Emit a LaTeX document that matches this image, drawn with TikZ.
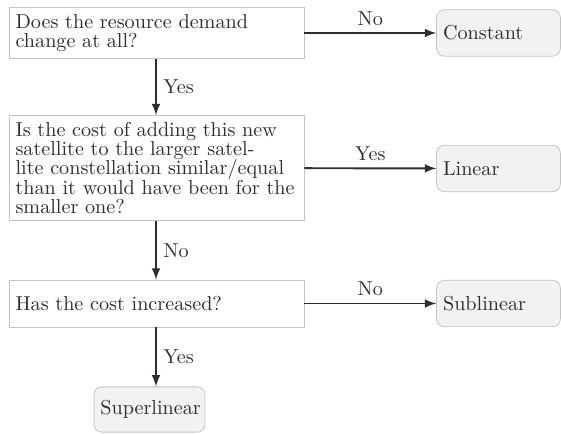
\documentclass[tikz,border=0pt]{standalone}
\usepackage{tikz}
\usetikzlibrary{arrows}
\usetikzlibrary{shapes}

\definecolor{boxline}{HTML}{C4C4C4}
\definecolor{endfill}{HTML}{F2F2F2}
\definecolor{ink}{HTML}{2E2E2E}

\tikzset{
  question/.style={draw=boxline, fill=white, text=ink, align=left,
    font=\fontsize{10.4}{10}\selectfont,
    text width=5.11cm, minimum height=#1},
  result/.style={draw=boxline, fill=endfill, text=ink, rounded corners=4pt,
    font=\fontsize{10.4}{10}\selectfont,
    align=left, text width=2.01cm, minimum height=0.84cm},
  flow/.style={-latex, ink, line width=1pt},
  answer/.style={text=ink, font=\fontsize{10.4}{10}\selectfont}
}

\begin{document}
\begin{tikzpicture}[x=0.01812cm, y=-0.01812cm]
  \useasboundingbox (0,0) rectangle (561,434);
  %% questions
  \node[question=0.87cm] (change) at (156.5,33)
    {Does the resource demand\\change at all?};
  \node[question=1.85cm] (similar) at (156.5,168)
    {Is the cost of adding this new\\satellite to the larger satel-\\lite constellation similar/equal\\than it would have been for the\\smaller one?};
  \node[question=0.85cm] (increase) at (156.5,303.5)
    {Has the cost increased?};
  %% outcomes
  \node[result] (constant) at (498.5,33) {Constant};
  \node[result] (linear) at (498.5,168.5) {Linear};
  \node[result] (sublinear) at (498.5,303.5) {Sublinear};
  \node[result, text width=1.78cm, minimum height=0.82cm] (superlinear)
    at (149.5,409.5) {Superlinear};
  %% connectors
  \draw[flow] (change) -- (constant)
    node[answer, above, midway] {No};
  \draw[flow] (change.south -| 156,0) -- (similar.north -| 156,0)
    node[answer, right, midway] {Yes};
  \draw[flow] (similar) -- (linear)
    node[answer, above, midway] {Yes};
  \draw[flow] (similar.south -| 156,0) -- (increase.north -| 156,0)
    node[answer, right, midway] {No};
  \draw[flow] (increase) -- (sublinear)
    node[answer, above, midway] {No};
  \draw[flow] (increase.south -| 156,0) -- (superlinear.north -| 156,0)
    node[answer, right, midway] {Yes};
\end{tikzpicture}
\end{document}
